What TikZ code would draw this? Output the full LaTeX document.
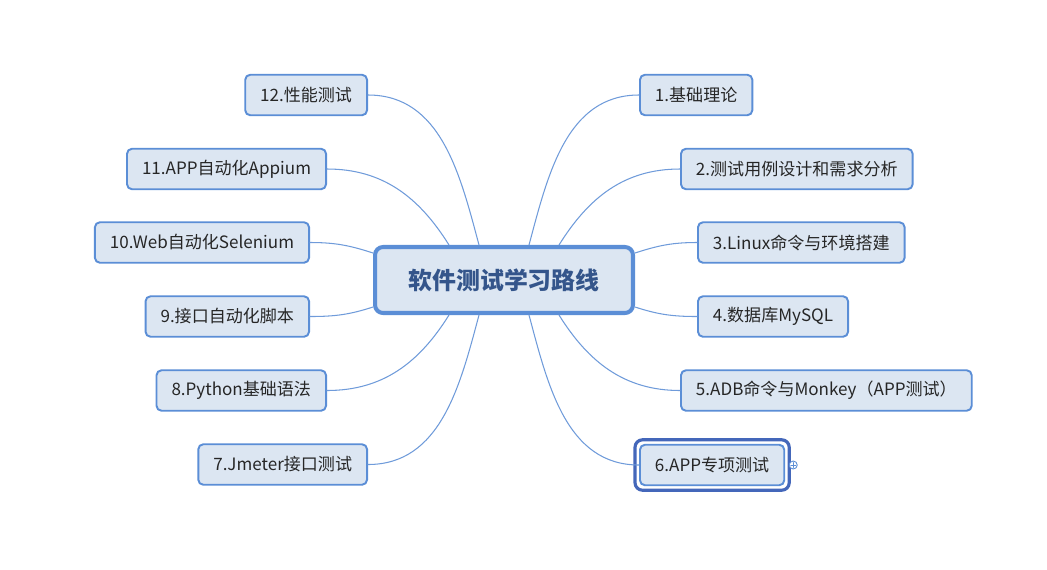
\documentclass[tikz,border=0pt]{standalone}
\usepackage{fontspec}
\setmainfont{Noto Sans CJK SC}
\usetikzlibrary{calc}
\definecolor{boxfill}{HTML}{DCE6F2}
\definecolor{boxline}{HTML}{5B8ED6}
\definecolor{linkline}{HTML}{6F9BDA}
\definecolor{titletext}{HTML}{34558B}
\definecolor{selline}{HTML}{4467BA}
\begin{document}
\begin{tikzpicture}[x=0.02cm, y=0.02cm, font=\fontsize{9.7}{11}\selectfont, line join=round, line cap=round,
	topic/.style={draw=boxline, fill=boxfill, line width=1.1pt, rounded corners=0.1cm, minimum height=0.81cm, inner xsep=0.3cm, text=black!85},
	root/.style={draw=boxline, fill=boxfill, line width=2.3pt, rounded corners=0.16cm, minimum width=5.16cm, minimum height=1.32cm, text=titletext, font=\fontsize{13.6}{16}\selectfont\bfseries},
	link/.style={draw=linkline, line width=0.6pt}]
		\useasboundingbox (0,0) rectangle (1047,-569);
		\node[root] (c) at (504,-280) {软件测试学习路线};
		% right branch
		\node[topic, anchor=west] (n1) at (639,-95) {1.基础理论};
		\node[topic, anchor=west] (n2) at (680,-169) {2.测试用例设计和需求分析};
		\node[topic, anchor=west] (n3) at (697,-242.5) {3.Linux命令与环境搭建};
		\node[topic, anchor=west] (n4) at (697,-316.5) {4.数据库MySQL};
		\node[topic, anchor=west] (n5) at (680,-390.5) {5.ADB命令与Monkey（APP测试）};
		\node[topic, anchor=west] (n6) at (639,-465) {6.APP专项测试};
		% left branch
		\node[topic, anchor=east] (n12) at (368,-95) {12.性能测试};
		\node[topic, anchor=east] (n11) at (327,-169) {11.APP自动化Appium};
		\node[topic, anchor=east] (n10) at (310,-242.5) {10.Web自动化Selenium};
		\node[topic, anchor=east] (n9) at (310,-316.5) {9.接口自动化脚本};
		\node[topic, anchor=east] (n8) at (327,-390.5) {8.Python基础语法};
		\node[topic, anchor=east] (n7) at (368,-464.5) {7.Jmeter接口测试};
		% selection frame
		\draw[selline, line width=1.8pt, rounded corners=0.15cm] ($(n6.north west)+(-4,4)$) rectangle ($(n6.south east)+(4,-4)$);
		\draw[boxline, line width=0.5pt, fill=white] ($(n6.east)+(8,0)$) circle (4);
		\draw[boxline, line width=0.5pt] ($(n6.east)+(5.5,0)$)--($(n6.east)+(10.5,0)$) ($(n6.east)+(8,2.5)$)--($(n6.east)+(8,-2.5)$);
		% links
		\draw[link] ($(c.north)+(25,0)$) to[out=75, in=180] (n1.west);
		\draw[link] ($(c.north)+(55,0)$) to[out=58, in=180] (n2.west);
		\draw[link] ($(c.east)+(0,27)$) to[out=18, in=180] (n3.west);
		\draw[link] ($(c.east)+(0,-27)$) to[out=-18, in=180] (n4.west);
		\draw[link] ($(c.south)+(55,0)$) to[out=-58, in=180] (n5.west);
		\draw[link] ($(c.south)+(25,0)$) to[out=-75, in=180] (n6.west);
		\draw[link] ($(c.north)+(-25,0)$) to[out=105, in=0] (n12.east);
		\draw[link] ($(c.north)+(-55,0)$) to[out=122, in=0] (n11.east);
		\draw[link] ($(c.west)+(0,27)$) to[out=162, in=0] (n10.east);
		\draw[link] ($(c.west)+(0,-27)$) to[out=198, in=0] (n9.east);
		\draw[link] ($(c.south)+(-55,0)$) to[out=238, in=0] (n8.east);
		\draw[link] ($(c.south)+(-25,0)$) to[out=255, in=0] (n7.east);
\end{tikzpicture}
\end{document}
